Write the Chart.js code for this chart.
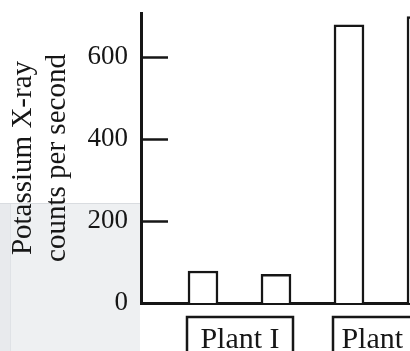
<!DOCTYPE html>
<html><head><meta charset="utf-8">
<script src="https://cdn.jsdelivr.net/npm/chart.js@4/dist/chart.umd.min.js"></script>
<style>
html,body{margin:0;padding:0;background:#fff;overflow:hidden;}
#wrap{position:relative;width:410px;height:351px;overflow:hidden;background:#fff;}
#panel{position:absolute;left:0;top:203px;width:140px;height:148px;background:#eef0f2;border-top:1px solid #d9dce0;}
#strip{position:absolute;left:0;top:204px;width:10px;height:147px;background:#e8eaed;border-right:1px solid #dfe2e6;}
canvas{position:absolute;left:0;top:0;}
</style></head><body>
<div id="wrap"><div id="panel"></div><div id="strip"></div><canvas id="c" width="470" height="351" style="width:470px;height:351px"></canvas></div>
<script>
// ---- data ----
const groups = ['Plant I', 'Plant II'];
const barsPerGroup = 2;
const counts = [78, 70, 678, 698];
const yTicks = [0, 200, 400, 600];
const yTitle = ['Potassium X-ray', 'counts per second'];

const INK = '#161616';
const SERIF = "'Liberation Serif', 'DejaVu Serif', serif";
const BAR_W = 30;

const innerTicks = {
  id: 'innerTicks',
  afterDatasetsDraw(chart) {
    const y = chart.scales.y, a = chart.chartArea, ctx = chart.ctx;
    ctx.save();
    ctx.strokeStyle = INK; ctx.lineWidth = 2.5;
    y.ticks.forEach(t => {
      if (t.value === 0) return;
      const py = Math.round(y.getPixelForValue(t.value)) + 0.5;
      ctx.beginPath(); ctx.moveTo(a.left, py); ctx.lineTo(a.left + 27, py); ctx.stroke();
    });
    ctx.restore();
  }
};

const groupLabels = {
  id: 'groupLabels',
  afterDraw(chart) {
    const x = chart.scales.x, a = chart.chartArea, ctx = chart.ctx;
    ctx.save();
    ctx.strokeStyle = INK; ctx.lineWidth = 2.5; ctx.fillStyle = INK;
    ctx.font = "30px " + SERIF; ctx.textAlign = 'center'; ctx.textBaseline = 'alphabetic';
    groups.forEach((g, gi) => {
      const first = gi * barsPerGroup + 1, last = first + barsPerGroup - 1;
      const l = x.getPixelForValue(first) - BAR_W / 2 - 1;
      const r = x.getPixelForValue(last) + BAR_W / 2 + 2;
      ctx.strokeRect(l, a.bottom + 14, r - l, 60);
      ctx.fillText(g, (l + r) / 2, a.bottom + 45);
    });
    ctx.restore();
  }
};

const spacing = 73;
const xMin = 1 - 62 / spacing;
const xMax = xMin + (470 - 141) / spacing;

new Chart(document.getElementById('c'), {
  type: 'bar',
  data: {
    datasets: [{
      data: counts.map((v, i) => ({ x: i + 1, y: v })),
      backgroundColor: '#ffffff',
      borderColor: INK,
      borderWidth: 2.5,
      barThickness: BAR_W,
      borderSkipped: 'bottom'
    }]
  },
  options: {
    responsive: false,
    animation: false,
    devicePixelRatio: 1,
    layout: { padding: { left: 0, right: 0, top: 13, bottom: 48 } },
    plugins: { legend: { display: false }, tooltip: { enabled: false } },
    scales: {
      x: {
        type: 'linear', min: xMin, max: xMax, offset: false,
        grid: { display: false, drawTicks: false, offset: false },
        ticks: { display: false },
        border: { display: true, color: INK, width: 3 },
        afterFit: s => { s.height = 0; s.paddingLeft = 0; s.paddingRight = 0; }
      },
      y: {
        min: 0, max: 707,
        afterBuildTicks: s => { s.ticks = yTicks.map(v => ({ value: v })); },
        grid: { display: false, drawTicks: false },
        border: { display: true, color: INK, width: 3 },
        ticks: { color: INK, font: { family: SERIF, size: 27 }, padding: 13 },
        title: {
          display: true, text: yTitle, color: INK,
          font: { family: SERIF, size: 29, lineHeight: 34 / 29 },
          padding: { top: 6, bottom: 0 }
        },
        afterFit: s => { s.width = 141; s.paddingTop = 0; s.paddingBottom = 0; }
      }
    }
  },
  plugins: [innerTicks, groupLabels]
});
</script>
</body></html>
